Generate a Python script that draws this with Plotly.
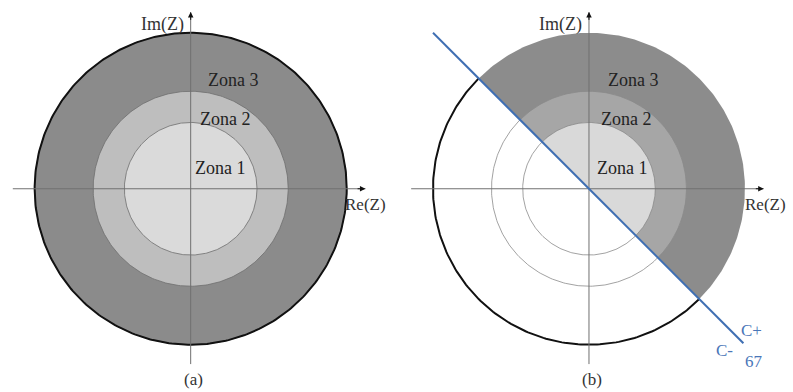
import numpy as np
import plotly.graph_objects as go
from plotly.subplots import make_subplots

# ---- data ----
zone_names = ["Zona 1", "Zona 2", "Zona 3"]
zone_radii = [0.425, 0.625, 1.0]
zone_colors_a = ["#dadada", "#bebebe", "#8b8b8b"]
zone_colors_b = ["#d9d9d9", "#a6a6a6", "#8c8c8c"]
label_pos_a = [(0.19, 0.13), (0.22, 0.445), (0.27, 0.70)]
label_pos_b = [(0.21, 0.13), (0.24, 0.445), (0.285, 0.70)]
line_angle_deg = 135          # characteristic line direction (through origin)
line_ends = [(-1.0, 1.0), (0.99, -0.99)]
axis_x_extent = [-1.14, 1.12]
axis_y_extent = [-1.124, 1.133]
panel_labels = ["(a)", "(b)"]

FONT = "Liberation Serif"

fig = make_subplots(rows=1, cols=2, horizontal_spacing=0)
fig.update_layout(
    width=793, height=392, margin=dict(l=0, r=0, t=0, b=0),
    paper_bgcolor="white", plot_bgcolor="white", showlegend=False,
    font=dict(family=FONT),
)
fig.update_xaxes(domain=[0, 0.5], range=[-1.222, 1.319], row=1, col=1)
fig.update_xaxes(domain=[0.5, 1], range=[-1.234, 1.308], row=1, col=2)
fig.update_xaxes(visible=False)
fig.update_yaxes(visible=False, range=[-1.303, 1.21])


def circle(r, a0=0, a1=360, n=361):
    t = np.radians(np.linspace(a0, a1, n))
    return r * np.cos(t), r * np.sin(t)


# ---- panel (a) ----
for r, c in sorted(zip(zone_radii, zone_colors_a), reverse=True):
    x, y = circle(r)
    fig.add_trace(go.Scatter(x=x, y=y, mode="lines", fill="toself", fillcolor=c,
                             line=dict(color="#6e6e6e", width=0.8), hoverinfo="skip"),
                  row=1, col=1)
x, y = circle(zone_radii[-1])
fig.add_trace(go.Scatter(x=x, y=y, mode="lines", line=dict(color="#111111", width=2),
                         hoverinfo="skip"), row=1, col=1)

# ---- panel (b) ----
a_start = line_angle_deg - 180
for r, c in sorted(zip(zone_radii, zone_colors_b), reverse=True):
    x, y = circle(r, a_start, line_angle_deg, 181)
    fig.add_trace(go.Scatter(x=np.append(x, x[0]), y=np.append(y, y[0]), mode="lines",
                             fill="toself", fillcolor=c, line=dict(width=0),
                             hoverinfo="skip"), row=1, col=2)
for r in zone_radii[:-1]:
    x, y = circle(r)
    fig.add_trace(go.Scatter(x=x, y=y, mode="lines", line=dict(color="#8a8a8a", width=0.8),
                             hoverinfo="skip"), row=1, col=2)
x, y = circle(zone_radii[-1], line_angle_deg, line_angle_deg + 180, 181)
fig.add_trace(go.Scatter(x=x, y=y, mode="lines", line=dict(color="#111111", width=2),
                         hoverinfo="skip"), row=1, col=2)

# ---- axes with arrows ----
for col in (1, 2):
    xr = "x" if col == 1 else "x2"
    yr = "y" if col == 1 else "y2"
    fig.add_trace(go.Scatter(x=axis_x_extent, y=[0, 0], mode="lines",
                             line=dict(color="#707070", width=1), hoverinfo="skip"),
                  row=1, col=col)
    fig.add_trace(go.Scatter(x=[0, 0], y=axis_y_extent, mode="lines",
                             line=dict(color="#707070", width=1), hoverinfo="skip"),
                  row=1, col=col)
    fig.add_annotation(x=axis_x_extent[1], y=0, ax=axis_x_extent[1] - 0.06, ay=0,
                       xref=xr, yref=yr, axref=xr, ayref=yr, text="", showarrow=True,
                       arrowhead=2, arrowsize=1.1, arrowwidth=1, arrowcolor="#111111")
    fig.add_annotation(x=0, y=axis_y_extent[1], ax=0, ay=axis_y_extent[1] - 0.06,
                       xref=xr, yref=yr, axref=xr, ayref=yr, text="", showarrow=True,
                       arrowhead=2, arrowsize=1.1, arrowwidth=1, arrowcolor="#111111")
    labels = label_pos_a if col == 1 else label_pos_b
    for name, (lx, ly) in zip(zone_names, labels):
        fig.add_annotation(x=lx, y=ly, xref=xr, yref=yr, text=name, showarrow=False,
                           font=dict(family=FONT, size=18, color="#222222"))
    fig.add_annotation(x=-0.03, y=1.05, xref=xr, yref=yr, text="Im(Z)", showarrow=False,
                       xanchor="right", font=dict(family=FONT, size=18, color="#333333"))
    fig.add_annotation(x=0.99 if col == 1 else 1.0, y=-0.1, xref=xr, yref=yr, text="Re(Z)",
                       showarrow=False, xanchor="left", xshift=-2,
                       font=dict(family=FONT, size=17, color="#333333"))
    fig.add_annotation(x=0.02, y=-1.226, xref=xr, yref=yr, text=panel_labels[col - 1],
                       showarrow=False, font=dict(family=FONT, size=17, color="#333333"))

# ---- characteristic line ----
fig.add_trace(go.Scatter(x=[p[0] for p in line_ends], y=[p[1] for p in line_ends],
                         mode="lines", line=dict(color="#3f6fb3", width=2),
                         hoverinfo="skip"), row=1, col=2)
blue_font = dict(family=FONT, size=17, color="#4a76b8")
fig.add_annotation(x=1.04, y=-0.906, xref="x2", yref="y2", text="C+", showarrow=False, font=blue_font)
fig.add_annotation(x=0.866, y=-1.04, xref="x2", yref="y2", text="C-", showarrow=False, font=blue_font)
fig.add_annotation(x=1.055, y=-1.105, xref="x2", yref="y2", text="67", showarrow=False, font=blue_font)

fig.write_html("out.html")
